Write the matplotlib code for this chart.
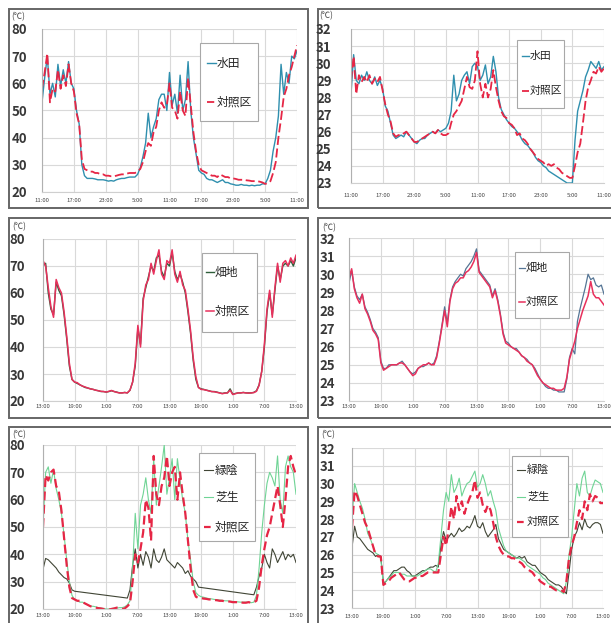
import numpy as np
import matplotlib
matplotlib.use("Agg")
import matplotlib.pyplot as plt
from matplotlib.patches import Rectangle
from matplotlib.lines import Line2D

plt.rcParams['font.family'] = ['Noto Sans CJK JP', 'DejaVu Sans']

NA = np.nan
hours = np.arange(97) * 0.5   # half-hourly readings over 48 h

ticks_11 = ["11:00", "17:00", "23:00", "5:00", "11:00", "17:00", "23:00", "5:00", "11:00"]
ticks_13 = ["13:00", "19:00", "1:00", "7:00", "13:00", "19:00", "1:00", "7:00", "13:00"]

# ---- paddy field vs control: surface temperature (left) / air temperature (right)
paddy_surf = [53, 62, 70, 56, 60, 55, 67, 59, 65, 60,
              68, 60, 58, 50, 45, 30, 26, 25, 25, 25,
              24.8, 24.5, 24.5, 24.5, 24.3, 24, 24.2, 24, 24.5, 24.8,
              25, 25, 25.3, 25.5, 25.5, 25.5, 26.5, 29, 33, 38,
              49, 40, 44, 47, 54, 56, 56, 50, 64, 52,
              56, 49, 63, 50, 54, 68, 50, 40, 34, 28,
              27, 26.5, 25, 24.5, 24.5, 24, 23.5, 24, 24.5, 23.5,
              23.5, 23, 22.8, 22.5, 22.5, 22.8, 22.5, 22.5, 22.3, 22.5,
              22.3, 22.5, 22.5, 23, 23, 25, 28, 35, 40, 48,
              67, 56, 64, 60, 70, 69, 72]
paddy_ctrl_surf = [58, 64, 71, 53, 58, 57, 65, 58, 63, 59,
                   67, 60, 57, 49, 45, 32, 28.5, 28, 27.5, 27.5,
                   27, 27, 26.5, 26.5, 26, 26, 25.8, 25.8, 26, 26.3,
                   26.5, 26.5, 26.8, 27, 27, 27, 27.5, 28.5, 31, 35,
                   38, 37, 42, 44, 50, 53, 51, 52, 60, 51,
                   50, 47, 57, 50, 48, 62, 52, 42, 35, 30,
                   28, 27.5, 27, 26.5, 26, 26, 25.5, 26.5, 26, 25.5,
                   25.5, 25, 25, 24.8, 24.5, 24.5, 24.5, 24.3, 24.2, 24,
                   24, 24, 23.8, 23.5, 23, 23.2, 24, 27, 31, 40,
                   47, 55, 58, 63, 66, 70, 74]
paddy_air = [28.2, 30.5, 29, 28.8, 29.3, 29.0, 29.5, 29, 28.8, 29.2,
             28.7, 29, 28.5, 27.5, 27.2, 26.5, 25.8, 25.6, 25.7, 25.8,
             25.7, 26, 25.8, 25.6, 25.4, 25.3, 25.5, 25.6, 25.6, 25.8,
             25.9, 26, 25.9, 26.1, 26.0, 26.1, 26.2, 26.5, 27.2, 29.3,
             27.8, 28.2, 29, 29.3, 29.5, 28.8, 29.8, 30, 29.8, 29,
             29.3, 29.9, 28.8, 29.2, 30.4, 29.5, 28, 27.3, 27, 26.7,
             26.5, 26.3, 26.2, 26, 25.8, 25.5, 25.3, 25.2, 25, 24.8,
             24.5, 24.3, 24.2, 24, 23.9, 23.7, 23.6, 23.5, 23.4, 23.3,
             23.2, 23.1, 23.0, 23.0, 23.0, 25.5, 27.2, 27.8, 28.4, 29.2,
             29.6, 30.1, 29.9, 29.7, 30.1, 29.6, 29.8]
paddy_ctrl_air = [29.0, 30.4, 28.2, 29.3, 28.9, 29.2, 28.9, 29.3, 28.8, 29.1,
                  28.9, 29.2, 28.4, 27.6, 27.0, 26.6, 25.9, 25.7, 25.8, 25.8,
                  25.9, 26, 25.8, 25.6, 25.4, 25.4, 25.5, 25.6, 25.7, 25.8,
                  25.9, 26, 25.9, 26.1, 25.9, 25.8, 25.8, 25.9, 26.5, 27,
                  27.2, 27.5, 27.8, 28.5, 29.2, 28.6, 28.5, 29, 30.7, 28.8,
                  28, 28.8, 28, 28.5, 29.6, 28.6, 27.8, 27.2, 26.9, 26.8,
                  26.5, 26.4, 26.2, 25.8, 25.9, 25.6, 25.5, 25.3, 25.0, 24.8,
                  24.6, 24.4, 24.3, 24.2, 24.0, 24.1, 24.0, 24.1, 23.9, 23.8,
                  23.6, 23.5, 23.4, 23.3, 23.3, 24, 24.8, 25.3, 26.5, 27.8,
                  28.6, 29.0, 29.5, 29.4, 29.8, 29.5, 29.7]

# ---- upland field vs control
field_surf = [70, 71, 60, 54, 52, 64, 61, 59, 52, 43,
              33, 28, 27, 26.5, 26, 25.5, 25, 24.8, 24.5, 24.3,
              24, 23.8, 23.5, 23.5, 23.3, 23.5, 23.8, 23.5, 23.3, 23,
              23, 23.2, 23, 24, 27, 33, 47, 41, 58, 62,
              66, 70, 68, 73, 74, 68, 66, 71, 70, 75,
              68, 65, 67, 64, 60, 53, 45, 35, 28, 25,
              24.5, 24.3, 24, 23.8, 23.5, 23.5, 23.3, 23, 22.8, 23,
              23, 24.5, 22.5, 22.8, 23, 23, 23.2, 23, 23, 23,
              23.2, 23.8, 26, 31, 40, 53, 60, 52, 61, 70,
              65, 70, 71, 70, 72, 70, 73]
field_ctrl_surf = [72, 70, 62, 55, 51, 65, 62, 60, 53, 44,
                   34, 28, 27, 26.8, 26, 25.5, 25.2, 24.8, 24.5, 24.3,
                   24, 23.8, 23.6, 23.5, 23.3, 23.6, 23.9, 23.5, 23.2, 23,
                   23, 23.1, 23, 24, 27, 34, 48, 40, 57, 63,
                   65, 71, 67, 72, 76, 67, 65, 72, 71, 76,
                   67, 64, 68, 63, 61, 54, 46, 36, 29, 25,
                   24.3, 24.2, 24, 23.7, 23.5, 23.4, 23.2, 23, 22.7, 22.9,
                   23, 24, 22.4, 22.7, 23, 23, 23.1, 23, 22.9, 23,
                   23.1, 23.6, 25.8, 31, 41, 54, 61, 51, 62, 71,
                   64, 71, 72, 70, 73, 71, 74]
field_air = [29.5, 30.2, 29.3, 28.8, 28.6, 28.9, 28.2, 27.9, 27.5, 27,
             26.8, 26.5, 25.2, 24.8, 24.8, 25, 25, 25, 25, 25.1,
             25.2, 25, 24.8, 24.6, 24.5, 24.6, 24.8, 24.9, 24.9, 25,
             25.1, 25, 25.1, 25.5, 26.3, 27.2, 28.2, 27.3, 28.6, 29.3,
             29.6, 29.8, 30.0, 29.9, 30.3, 30.5, 30.7, 31.0, 31.4, 30.2,
             30.0, 29.8, 29.6, 29.4, 28.8, 29.2, 28.6, 27.8, 26.8, 26.3,
             26.2, 26, 25.9, 25.9, 25.7, 25.5, 25.4, 25.3, 25.1, 25,
             24.8, 24.5, 24.2, 24.0, 23.8, 23.7, 23.7, 23.6, 23.6, 23.5,
             23.5, 23.5, 24.2, 25.4, 25.9, 25.6, 27.4, 28.1, 28.7, 29.3,
             30.0, 29.7, 29.8, 29.4, 29.3, 29.4, 28.9]
field_ctrl_air = [29.8, 30.3, 29.2, 28.7, 28.4, 28.9, 28.1, 27.8, 27.4, 26.9,
                  26.7, 26.4, 25.1, 24.7, 24.8, 24.9, 25, 25, 25, 25.1,
                  25.1, 25, 24.8, 24.6, 24.4, 24.5, 24.8, 24.9, 25, 25,
                  25.1, 25, 25, 25.4, 26.2, 27.1, 28, 27.1, 28.5, 29.2,
                  29.5, 29.6, 29.8, 29.8, 30.1, 30.2, 30.4, 30.7, 31.2, 30.1,
                  29.9, 29.7, 29.5, 29.3, 28.7, 29.1, 28.5, 27.7, 26.7, 26.2,
                  26.1, 26, 25.9, 25.8, 25.7, 25.5, 25.4, 25.2, 25.1, 25,
                  24.7, 24.4, 24.2, 24.0, 23.9, 23.8, 23.7, 23.7, 23.6, 23.6,
                  23.6, 23.7, 24.3, 25.3, 25.8, 26.3, 27.0, 27.5, 28.0, 28.4,
                  28.8, 29.6, 28.9, 28.7, 28.7, 28.5, 28.3]

# ---- tree shade / lawn vs control (shade logger missing at night)
shade_surf = ([34.5, 38.5, 38, 37, 36, 35, 33.5, 32.5, 31.5, 31,
               29.5, 27, 26.5] + [NA] * 19 +
              [24.0, 27, 36, 42, 35, 40, 36, 41,
               39, 35, 42, 38, 37, 39, 42, 38, 37, 36,
               35, 37, 36, 35, 33, 34, 32, 31, 30, 28] + [NA] * 20 +
              [25.2, 28, 32, 35, 40, 37, 35, 42, 40, 37,
               39, 41, 38, 40, 39, 40, 37])
lawn_surf = [50, 70, 72, 66, 71, 64, 60, 55, 47, 38,
             30, 25, 23.5, 23, 22.5, 22.5, 22, 21.5, 21, 21,
             20.8, 20.5, 20.3, 20.2, 20, 20, 20.2, 20.3, 20.3, 20.5,
             20.5, 20.8, 21.5, 23, 35, 55, 42, 58, 62, 68,
             60, 55, 75, 58, 65, 72, 80, 62, 68, 75,
             60, 75, 67, 60, 55, 45, 38, 30, 26, 25,
             24.5, 24.3, 24, 23.8, 23.7, 23.5, 23.4, 23.3, 23.2, 23,
             23, 22.8, 22.8, 22.7, 22.6, 22.5, 22.5, 22.5, 22.5, 22.3,
             22.5, 25, 35, 48, 58, 66, 70, 68, 65, 76,
             60, 55, 72, 76, 72, 70, 62]
green_ctrl_surf = [50, 69, 67, 70, 71, 65, 63, 56, 46, 36,
                   28, 24, 23.5, 23, 23, 22.5, 22, 21.5, 21, 20.8,
                   20.5, 20.3, 20.2, 20, 20, 19.8, 20, 20.2, 20.5, 20.3,
                   20, 20.2, 21, 22, 30, 40, 37, 42, 48, 60,
                   57, 45, 76, 62, 58, 65, 68, 76, 65, 70,
                   72, 60, 70, 62, 55, 45, 35, 27, 24.5, 24,
                   24, 23.8, 23.7, 23.5, 23.5, 23.3, 23.2, 23, 23, 22.8,
                   22.8, 22.7, 22.5, 22.5, 22.5, 22.4, 22.3, 22.3, 22.5, 22.3,
                   22.5, 23, 28, 36, 42, 47, 50, 55, 60, 65,
                   58, 50, 60, 72, 76, 72, 69]
shade_air = [26.4, 27.6, 27.0, 26.9, 26.7, 26.5, 26.3, 26.2, 26.1, 25.9,
             26.0, 25.9, 24.4, 24.5, 24.7, 24.9, 25.1, 25.1, 25.2, 25.3,
             25.3, 25.1, 25.0, 24.8, 24.8, 24.9, 25.0, 25.1, 25.1, 25.2,
             25.3, 25.3, 25.4, 25.3, 26.5, 27.3, 26.8, 27.0, 27.2, 27.0,
             27.2, 27.5, 27.3, 27.4, 27.6, 27.5, 27.8, 28.2, 27.6, 27.5,
             27.8, 27.3, 27.0, 27.2, 27.4, 27.7, 26.9, 26.6, 26.3, 26.2,
             26.1, 26.0, 25.9, 25.8, 25.9, 25.8, 25.9, 25.6, 25.5, 25.4,
             25.4, 25.2, 25.0, 24.9, 24.8, 24.6, 24.5, 24.4, 24.3, 24.3,
             24.2, 24.0, 23.8, 25.0, 26.3, 27.0, 27.3, 27.8, 27.4, 28.0,
             27.6, 27.5, 27.7, 27.8, 27.8, 27.7, 27.2]
lawn_air = [28.0, 30.0, 29.5, 29.0, 28.6, 28.0, 27.2, 26.9, 26.5, 26.1,
            26.0, 25.8, 24.3, 24.5, 24.7, 24.8, 25.0, 25.0, 25.0, 24.9,
            24.9, 24.8, 24.8, 24.8, 24.8, 24.8, 24.9, 25.0, 25.1, 25.2,
            25.2, 25.1, 25.0, 25.5, 27.0, 28.5, 29.5, 29.0, 30.5, 29.5,
            29.8, 30.3, 29.3, 29.7, 30.0, 30.1, 30.4, 30.7, 29.8, 30.0,
            30.5, 30.0, 29.3, 29.6, 29.0, 28.5, 27.5, 27.0, 26.5, 26.2,
            26.1, 26.0, 25.9, 25.8, 25.8, 25.7, 25.6, 25.4, 25.3, 25.2,
            25.1, 25.0, 24.9, 24.7, 24.6, 24.4, 24.3, 24.2, 24.1, 24.0,
            23.9, 23.8, 24.5, 26.0, 27.0, 28.5, 30.0, 29.3, 30.3, 30.7,
            29.5, 29.3, 29.8, 30.2, 30.1, 30.0, 29.5]
green_ctrl_air = [27.5, 29.6, 29.3, 28.8, 28.3, 27.8, 27.5, 27.0, 26.5, 26.0,
                  25.9, 25.9, 24.3, 24.4, 24.5, 24.7, 24.8, 24.9, 25.0, 24.8,
                  24.6, 24.5, 24.5, 24.6, 24.7, 24.7, 24.8, 24.8, 24.9, 25.0,
                  25.0, 25.0, 25.0, 25.0, 26.0, 27.0, 26.5, 27.5, 28.7, 28.0,
                  29.3, 28.5, 29.0, 28.3, 28.8, 29.2, 29.5, 30.2, 29.2, 29.5,
                  28.8, 28.4, 28.8, 28.5, 27.8, 27.0, 26.5, 26.2, 26.0, 25.9,
                  25.9, 25.8, 25.8, 25.7, 25.6, 25.5, 25.3, 25.2, 25.1, 25.0,
                  24.8, 24.7, 24.5, 24.4, 24.3, 24.2, 24.2, 24.1, 24.0, 24.0,
                  24.0, 23.9, 24.5, 25.8, 26.5, 27.0, 27.8, 28.5, 28.0, 29.0,
                  28.5, 29.4, 29.0, 29.3, 29.2, 28.9, 28.9]

# ---------------------------------------------------------------- layout
W, H = 611, 623
fig = plt.figure(figsize=(W / 100, H / 100), dpi=100)
fig.patch.set_facecolor('white')


def fx(x):
    return x / W


def fy(y):
    return 1 - y / H


def box(x0, y0, x1, y1, **kw):
    r = Rectangle((fx(x0), fy(y1)), fx(x1) - fx(x0), fy(y0) - fy(y1),
                  transform=fig.transFigure, **kw)
    fig.add_artist(r)
    return r


def panel(frame, area, ylim, yticks, xlabels, ypad, xpad, unit_xy):
    box(*frame, fill=False, ec='#666666', lw=1.4, zorder=0)
    l, t, r, b = area
    ax = fig.add_axes([fx(l), fy(b), fx(r) - fx(l), fy(t) - fy(b)])
    ax.set_xlim(0, 48)
    ax.set_ylim(*ylim)
    ax.set_xticks(np.arange(0, 49, 6))
    ax.set_xticklabels(xlabels)
    ax.set_yticks(yticks)
    ax.grid(True, color='#d9d9d9', lw=0.8)
    ax.set_axisbelow(True)
    for s in ('top', 'right'):
        ax.spines[s].set_visible(False)
    ax.spines['left'].set_color('#b0b0b0')
    ax.spines['bottom'].set_color('#cfcfcf')
    ax.tick_params(axis='y', length=0, pad=ypad, labelsize=9.5, labelcolor='#383838')
    ax.tick_params(axis='x', length=0, pad=xpad, labelsize=4.3, labelcolor='#444444')
    for lab in ax.get_yticklabels():
        lab.set_fontweight('bold')
    fig.text(fx(unit_xy[0]), fy(unit_xy[1]), '(℃)', fontsize=6, color='#444444',
             ha='left', va='center')
    return ax


def key(rect, ys, hx, tx, entries, fs):
    box(*rect, fc='white', ec='#a8a8a8', lw=0.8, zorder=5)
    for yc, (label, kw) in zip(ys, entries):
        fig.add_artist(Line2D([fx(hx[0]), fx(hx[1])], [fy(yc), fy(yc)],
                              transform=fig.transFigure, zorder=6, **kw))
        fig.text(fx(tx), fy(yc), label, fontsize=fs, color='#262626',
                 ha='left', va='center', zorder=6)


TEAL = '#2f8fae'
RED = '#e62645'
PINK = '#e8305c'

t80 = np.arange(20, 81, 10)
t32 = np.arange(23, 33, 1)

# row 1: paddy
axA = panel((9, 9, 308, 208), (42, 29, 297, 192), (20, 80), t80, ticks_11, 10.8, 4.5, (11, 17))
axA.plot(hours, paddy_surf, color=TEAL, lw=1.0)
axA.plot(hours, paddy_ctrl_surf, color=RED, lw=1.3, ls=(0, (5, 2)))
key((200, 43, 258, 121), [63, 102], (207, 216), 217,
    [('水田', dict(color=TEAL, lw=1.0)),
     ('対照区', dict(color=RED, lw=1.3, ls=(0, (4, 2))))], 8.5)

axB = panel((318, 9, 625, 208), (351, 29, 604, 183), (23, 32), t32, ticks_11, 14, 7.5, (319, 16))
axB.plot(hours, paddy_air, color=TEAL, lw=1.0)
axB.plot(hours, paddy_ctrl_air, color=RED, lw=1.3, ls=(0, (5, 2)))
key((517, 40, 564, 108), [56, 91], (522, 529), 530,
    [('水田', dict(color=TEAL, lw=1.0)),
     ('対照区', dict(color=RED, lw=1.3, ls=(0, (4, 2))))], 7.8)

# row 2: upland field
axC = panel((9, 218, 308, 418), (43, 239, 296, 401), (20, 80), t80, ticks_13, 13, 1.8, (12, 227))
axC.plot(hours, field_surf, color='#2f5e3a', lw=1.0)
axC.plot(hours, field_ctrl_surf, color=PINK, lw=1.1)
key((202, 253, 257, 332), [272, 311], (206, 214), 215,
    [('畑地', dict(color='#2f5e3a', lw=1.0)),
     ('対照区', dict(color=PINK, lw=1.1))], 8.5)

axD = panel((318, 218, 625, 418), (349, 238, 604, 401), (23, 32), t32, ticks_13, 10, 1.8, (322, 228))
axD.plot(hours, field_air, color='#557595', lw=0.9)
axD.plot(hours, field_ctrl_air, color=PINK, lw=1.1)
key((515, 252, 569, 318), [268, 302], (519, 525), 526,
    [('畑地', dict(color='#557595', lw=0.9)),
     ('対照区', dict(color=PINK, lw=1.1))], 8)

# row 3: tree shade and lawn
SHADE = '#404535'
LAWN = '#6fd495'
axE = panel((9, 427, 308, 630), (43, 445, 296, 609), (20, 80), t80, ticks_13, 13, 3.2, (12, 435))
shade_arr = np.array(shade_surf)
ok = np.isfinite(shade_arr)
axE.plot(hours[ok], shade_arr[ok], color=SHADE, lw=0.8)
axE.plot(hours, lawn_surf, color=LAWN, lw=0.8)
axE.plot(hours, green_ctrl_surf, color=RED, lw=1.6, ls=(0, (4, 2)))
key((199, 453, 255, 541), [470, 497, 527], (204, 213), 215,
    [('緑陰', dict(color=SHADE, lw=0.8)),
     ('芝生', dict(color=LAWN, lw=0.8)),
     ('対照区', dict(color=RED, lw=1.6, ls=(0, (3, 2))))], 8.5)

axF = panel((318, 427, 625, 630), (352, 448, 603, 608), (23, 32), t32, ticks_13, 12, 4, (321, 435))
axF.plot(hours, shade_air, color=SHADE, lw=0.8)
axF.plot(hours, lawn_air, color=LAWN, lw=0.8)
axF.plot(hours, green_ctrl_air, color=RED, lw=1.6, ls=(0, (4, 2)))
key((512, 456, 568, 537), [470, 497, 522], (517, 525), 527,
    [('緑陰', dict(color=SHADE, lw=0.8)),
     ('芝生', dict(color=LAWN, lw=0.8)),
     ('対照区', dict(color=RED, lw=1.6, ls=(0, (3, 2))))], 8)

fig.savefig('out.png', dpi=100, facecolor='white')
